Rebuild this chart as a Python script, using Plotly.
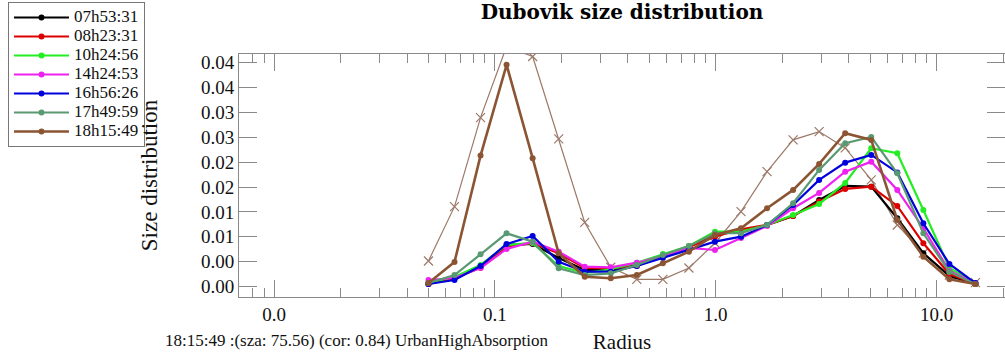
import plotly.graph_objects as go

# AERONET / Dubovik radius bins (micrometre)
radius = [0.050000, 0.065604, 0.086077, 0.112939, 0.148184, 0.194429, 0.255105,
          0.334716, 0.439173, 0.576227, 0.756052, 0.991996, 1.301571, 1.707757,
          2.240702, 2.939966, 3.857452, 5.061260, 6.640745, 8.713145, 11.432287,
          15.000000]

series_names = ["07h53:31", "08h23:31", "10h24:56", "14h24:53",
                "16h56:26", "17h49:59", "18h15:49"]
series_colors = ["#000000", "#dd0000", "#22ee22", "#ee22ee",
                 "#0000dd", "#5a9a72", "#8b5533"]

s_0753 = [0.00045, 0.00154, 0.00359, 0.00752, 0.00770, 0.00516, 0.00299, 0.00299,
          0.00390, 0.00553, 0.00716, 0.00964, 0.00993, 0.01114, 0.01277, 0.01567,
          0.01821, 0.01808, 0.01236, 0.00602, 0.00190, 0.00045]
s_0823 = [0.00045, 0.00154, 0.00341, 0.00721, 0.00783, 0.00602, 0.00335, 0.00330,
          0.00371, 0.00553, 0.00716, 0.00902, 0.01036, 0.01114, 0.01277, 0.01537,
          0.01767, 0.01808, 0.01459, 0.00783, 0.00227, 0.00045]
s_1024 = [0.00063, 0.00172, 0.00390, 0.00752, 0.00788, 0.00371, 0.00245, 0.00312,
          0.00431, 0.00589, 0.00734, 0.00993, 0.00993, 0.01114, 0.01296, 0.01495,
          0.01875, 0.02504, 0.02414, 0.01386, 0.00335, 0.00063]
s_1424 = [0.00118, 0.00154, 0.00335, 0.00680, 0.00812, 0.00631, 0.00359, 0.00348,
          0.00431, 0.00553, 0.00698, 0.00661, 0.00879, 0.01096, 0.01417, 0.01694,
          0.02080, 0.02261, 0.01749, 0.01055, 0.00281, 0.00063]
s_1656 = [0.00045, 0.00118, 0.00371, 0.00770, 0.00915, 0.00449, 0.00268, 0.00268,
          0.00371, 0.00516, 0.00661, 0.00812, 0.00902, 0.01114, 0.01477, 0.01930,
          0.02243, 0.02383, 0.02066, 0.01145, 0.00408, 0.00063]
s_1749 = [0.00063, 0.00208, 0.00583, 0.00964, 0.00812, 0.00330, 0.00208, 0.00239,
          0.00390, 0.00571, 0.00734, 0.00964, 0.00964, 0.01114, 0.01508, 0.02111,
          0.02595, 0.02709, 0.02051, 0.00964, 0.00263, 0.00045]
s_1815 = [0.00063, 0.00444, 0.02370, 0.04014, 0.02323, 0.00602, 0.00178, 0.00149,
          0.00208, 0.00420, 0.00631, 0.00933, 0.01055, 0.01417, 0.01749, 0.02220,
          0.02776, 0.02655, 0.01205, 0.00540, 0.00130, 0.00045]

# reference model (UrbanHighAbsorption), thin line with crosses
model_urban = [0.00462, 0.01446, 0.03059, 0.04347, 0.04164, 0.02673, 0.01160, 0.00348,
               0.00130, 0.00130, 0.00335, 0.00788, 0.01355, 0.02080, 0.02655, 0.02805,
               0.02510, 0.01930, 0.01114, 0.00607, 0.00208, 0.00069]

all_series = [s_0753, s_0823, s_1024, s_1424, s_1656, s_1749, s_1815]

y_tickvals = [0.0, 0.0045, 0.009, 0.0135, 0.018, 0.0225, 0.027, 0.0315, 0.036, 0.0405]
y_ticktext = ["0.00", "0.00", "0.01", "0.01", "0.02", "0.02", "0.03", "0.03", "0.04", "0.04"]
x_tickvals = [0.01, 0.1, 1, 10]
x_ticktext = ["0.0", "0.1", "1.0", "10.0"]
# minor log ticks 2..9 of each decade
x_minor_vals = [m * 10.0 ** e for e in range(-3, 2) for m in range(2, 10)]

info_text = "18:15:49 :(sza: 75.56) (cor: 0.84) UrbanHighAbsorption"

SERIF = "Liberation Serif"
AXC = "#8a8a8a"

fig = go.Figure()

fig.add_trace(go.Scatter(
    x=radius, y=model_urban, mode="lines+markers", showlegend=False,
    line=dict(color="#9c7868", width=1.2),
    marker=dict(symbol="x-thin-open", size=9, line=dict(color="#9c7868", width=1.2)),
))

for name, color, vals in zip(series_names, series_colors, all_series):
    fig.add_trace(go.Scatter(
        x=radius, y=vals, mode="lines+markers",
        name="<span style='font-size:17px'>%s</span>" % name,
        line=dict(color=color, width=2.2 if name != "18h15:49" else 2.6),
        marker=dict(symbol="circle", size=6, color=color),
    ))

fig.update_layout(
    width=1005, height=354,
    margin=dict(l=239, r=0, t=54, b=57),
    paper_bgcolor="white", plot_bgcolor="white",
    font=dict(family=SERIF, size=18, color="#111"),
    title=dict(text="<b>Dubovik size distribution</b>", xref="paper", x=0.5, xanchor="center",
               yref="container", y=0.966, yanchor="middle",
               font=dict(family="DejaVu Serif", size=20, color="#000")),
    showlegend=True,
    legend=dict(x=-0.3016, y=1.214, xanchor="left", yanchor="top",
                bgcolor="white", bordercolor="#777", borderwidth=1,
                itemwidth=55,
                font=dict(family=SERIF, size=12, color="#111"), tracegroupgap=0),
    annotations=[dict(text=info_text, xref="paper", yref="paper", x=-0.0992, y=-0.181,
                      xanchor="left", yanchor="middle", showarrow=False,
                      font=dict(family=SERIF, size=17, color="#111"))],
)

fig.update_xaxes(
    type="log", range=[-2.159, 1.31], automargin=False,
    tickmode="array", tickvals=x_tickvals, ticktext=x_ticktext,
    ticks="inside", ticklen=17, tickcolor=AXC, tickwidth=1,
    minor=dict(ticks="inside", ticklen=9, tickcolor=AXC, tickmode="array",
               tickvals=x_minor_vals, showgrid=False),
    showline=True, linecolor=AXC, linewidth=1, mirror="allticks",
    showgrid=False, zeroline=False,
    tickfont=dict(family=SERIF, size=19),
    title=dict(text="Radius", font=dict(family=SERIF, size=21), standoff=44),
)
fig.update_yaxes(
    range=[-0.0019, 0.0421], automargin=False,
    tickmode="array", tickvals=y_tickvals, ticktext=y_ticktext,
    ticks="inside", ticklen=18, tickcolor=AXC, tickwidth=1,
    showline=True, linecolor=AXC, linewidth=1, mirror="allticks",
    showgrid=False, zeroline=False,
    tickfont=dict(family=SERIF, size=19),
    title=dict(text="Size distribution", font=dict(family=SERIF, size=23), standoff=36),
)

fig.write_html("out.html")
